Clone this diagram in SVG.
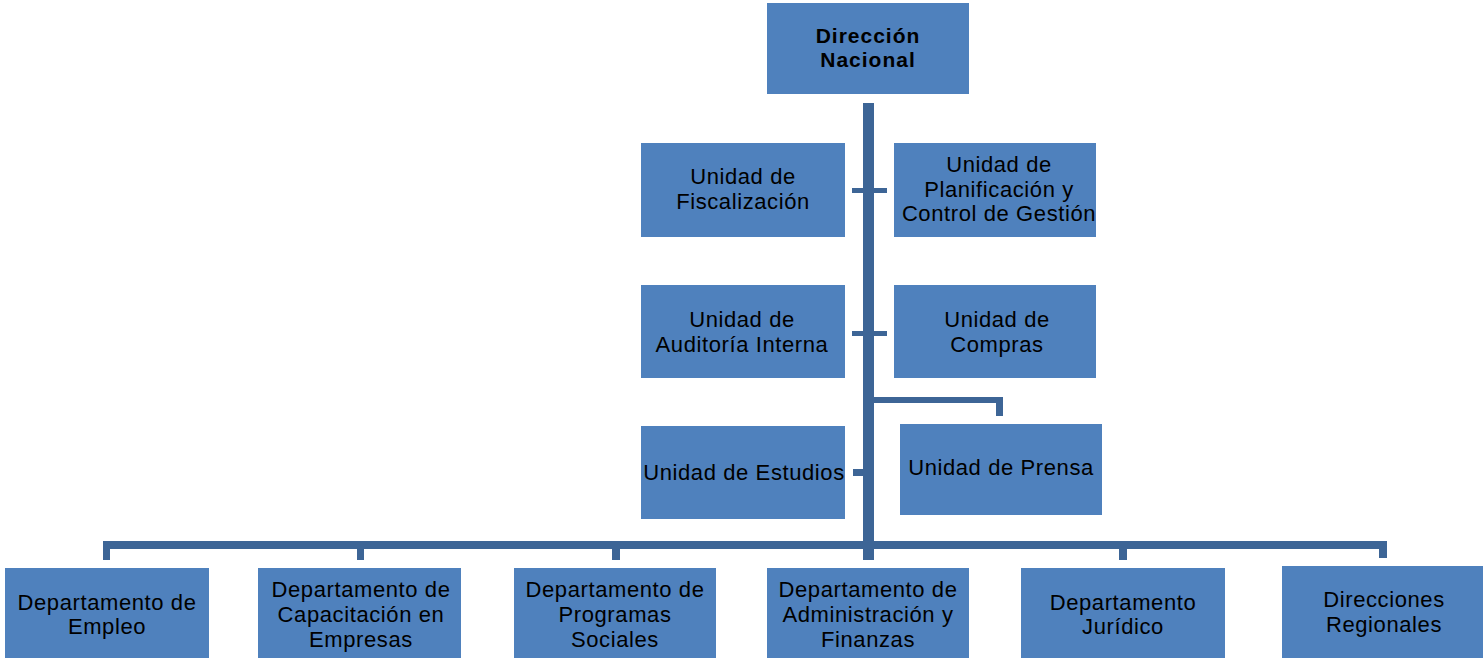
<svg xmlns="http://www.w3.org/2000/svg" width="1483" height="659" viewBox="0 0 1483 659">
<style>
.box{fill:#4F81BD;}
.ln{fill:#3D6596;}
text{font-family:"Liberation Sans",Arial,sans-serif;font-size:22px;fill:#000;text-anchor:middle;letter-spacing:0.6px;}
.b{font-weight:bold;font-size:21px;letter-spacing:1px;}
</style>
<g id="connectors">
<rect class="ln" x="863" y="103" width="11" height="457"/>
<rect class="ln" x="852" y="188" width="35" height="5"/>
<rect class="ln" x="852" y="331" width="35" height="5"/>
<rect class="ln" x="853" y="469" width="10" height="7"/>
<rect class="ln" x="874" y="397" width="129" height="6"/>
<rect class="ln" x="996" y="397" width="7" height="19"/>
<rect class="ln" x="103" y="541" width="1284" height="8"/>
<rect class="ln" x="103" y="541" width="7" height="19"/>
<rect class="ln" x="357" y="541" width="7" height="19"/>
<rect class="ln" x="612" y="541" width="8" height="19"/>
<rect class="ln" x="1119" y="541" width="8" height="19"/>
<rect class="ln" x="1379" y="541" width="8" height="17"/>
</g>
<g id="n-direccion">
<rect class="box" x="767" y="3" width="202" height="91"/>
<text class="b" x="868" y="43">Dirección</text>
<text class="b" x="868" y="67">Nacional</text>
</g>
<g id="n-fiscalizacion">
<rect class="box" x="641" y="143" width="204" height="94"/>
<text x="743" y="184">Unidad de</text>
<text x="743" y="209">Fiscalización</text>
</g>
<g id="n-planificacion">
<rect class="box" x="894" y="143" width="202" height="94"/>
<text x="999" y="172">Unidad de</text>
<text x="999" y="197">Planificación y</text>
<text x="999" y="221">Control de Gestión</text>
</g>
<g id="n-auditoria">
<rect class="box" x="641" y="285" width="204" height="93"/>
<text x="742" y="327">Unidad de</text>
<text x="742" y="352">Auditoría Interna</text>
</g>
<g id="n-compras">
<rect class="box" x="894" y="285" width="202" height="93"/>
<text x="997" y="327">Unidad de</text>
<text x="997" y="352">Compras</text>
</g>
<g id="n-estudios">
<rect class="box" x="641" y="426" width="204" height="93"/>
<text x="744" y="480">Unidad de Estudios</text>
</g>
<g id="n-prensa">
<rect class="box" x="900" y="424" width="202" height="91"/>
<text x="1001" y="475">Unidad de Prensa</text>
</g>
<g id="n-empleo">
<rect class="box" x="5" y="568" width="204" height="90"/>
<text x="107" y="610">Departamento de</text>
<text x="107" y="634">Empleo</text>
</g>
<g id="n-capacitacion">
<rect class="box" x="258" y="568" width="203" height="90"/>
<text x="361" y="597">Departamento de</text>
<text x="361" y="622">Capacitación en</text>
<text x="361" y="647">Empresas</text>
</g>
<g id="n-programas">
<rect class="box" x="514" y="568" width="202" height="90"/>
<text x="615" y="597">Departamento de</text>
<text x="615" y="622">Programas</text>
<text x="615" y="647">Sociales</text>
</g>
<g id="n-administracion">
<rect class="box" x="767" y="568" width="202" height="90"/>
<text x="868" y="597">Departamento de</text>
<text x="868" y="622">Administración y</text>
<text x="868" y="647">Finanzas</text>
</g>
<g id="n-juridico">
<rect class="box" x="1021" y="568" width="204" height="90"/>
<text x="1123" y="610">Departamento</text>
<text x="1123" y="634">Jurídico</text>
</g>
<g id="n-regionales">
<rect class="box" x="1282" y="566" width="201" height="92"/>
<text x="1384" y="607">Direcciones</text>
<text x="1384" y="632">Regionales</text>
</g>
</svg>
